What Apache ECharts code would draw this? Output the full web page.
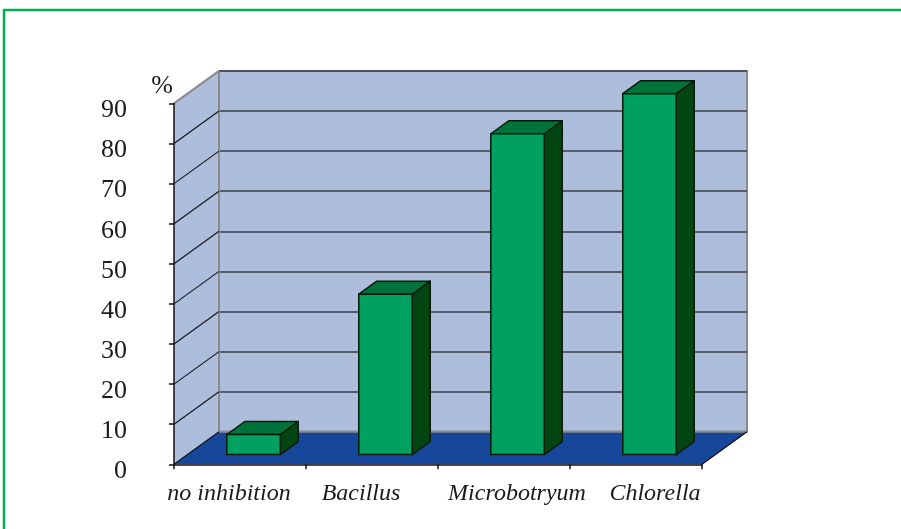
<!DOCTYPE html>
<html>
<head>
<meta charset="utf-8">
<script src="https://cdn.jsdelivr.net/npm/echarts@6/dist/echarts.min.js"></script>
<style>
  html, body { margin: 0; padding: 0; background: #ffffff; }
  #chart { width: 901px; height: 529px; }
</style>
</head>
<body>
<div id="chart"></div>
<script>
// Growth inhibition by organism (%)
const categories = ['no inhibition', 'Bacillus', 'Microbotryum', 'Chlorella'];
const inhibition = [5, 40, 80, 90];
const yTicks = [0, 10, 20, 30, 40, 50, 60, 70, 80, 90];

// 3-D box styling
const DEPTH_X = 45;        // horizontal shift of the back wall (px)
const DEPTH_Y = -32.5;     // vertical shift of the back wall (px)
const BAR_FRONT = 0.30;    // bar front face position within the depth
const BAR_BACK = 0.70;     // bar back face position within the depth
const BAR_WIDTH = 0.405;   // fraction of a category band
const LABEL_NUDGE = [-11, -11, 13, 19];

const SERIF = '"Liberation Serif", "Times New Roman", serif';
const TEXT = '#1a1a1a';
const WALL = '#adbedd';
const FLOOR = '#17479a';
const WALL_EDGE = '#8a8a8a';

const chart = echarts.init(document.getElementById('chart'), null, { renderer: 'canvas' });

const xRich = {};
LABEL_NUDGE.forEach((s, i) => {
  xRich['n' + i] = {
    fontFamily: SERIF, fontSize: 24, fontStyle: 'italic', color: TEXT,
    padding: s >= 0 ? [0, 0, 0, 2 * s] : [0, -2 * s, 0, 0]
  };
});

// Left side wall, floor and the receding grid lines
function renderRoom(params, api) {
  const cs = params.coordSys;
  const x0 = cs.x, x1 = cs.x + cs.width;
  const yZero = api.coord([0, yTicks[0]])[1];
  const yTop = api.coord([0, yTicks[yTicks.length - 1]])[1];
  const children = [
    { type: 'polygon', z2: 1,
      shape: { points: [[x0, yZero], [x0 + DEPTH_X, yZero + DEPTH_Y], [x0 + DEPTH_X, yTop + DEPTH_Y], [x0, yTop]] },
      style: { fill: WALL, stroke: null } },
    { type: 'polygon', z2: 2,
      shape: { points: [[x0, yZero], [x1, yZero], [x1 + DEPTH_X, yZero + DEPTH_Y], [x0 + DEPTH_X, yZero + DEPTH_Y]] },
      style: { fill: FLOOR, stroke: null } },
    { type: 'line', z2: 3,
      shape: { x1: x0 + DEPTH_X, y1: yZero + DEPTH_Y, x2: x1 + DEPTH_X, y2: yZero + DEPTH_Y },
      style: { stroke: WALL_EDGE, lineWidth: 2 } },
    { type: 'line', z2: 3,
      shape: { x1: x0 + DEPTH_X, y1: yZero + DEPTH_Y, x2: x0 + DEPTH_X, y2: yTop + DEPTH_Y },
      style: { stroke: WALL_EDGE, lineWidth: 2 } },
    { type: 'line', z2: 3,
      shape: { x1: x1, y1: yZero, x2: x1 + DEPTH_X, y2: yZero + DEPTH_Y },
      style: { stroke: '#111', lineWidth: 1.3 } }
  ];
  yTicks.forEach((t, k) => {
    const y = api.coord([0, t])[1];
    const last = k === yTicks.length - 1;
    children.push({
      type: 'line', z2: 4,
      shape: { x1: x0, y1: y, x2: x0 + DEPTH_X, y2: y + DEPTH_Y },
      style: { stroke: last ? WALL_EDGE : '#111', lineWidth: last ? 2 : 1.1 }
    });
  });
  return { type: 'group', children };
}

// One 3-D bar: front face, top and right side
function renderBar(params, api) {
  const i = api.value(0);
  const v = api.value(1);
  const top = api.coord([i, v]);
  const base = api.coord([i, 0]);
  const band = api.size([1, 0])[0];
  const w = band * BAR_WIDTH;
  const fx0 = top[0] + BAR_FRONT * DEPTH_X - w / 2;
  const fx1 = fx0 + w;
  const yt = top[1] + BAR_FRONT * DEPTH_Y;
  const yb = base[1] + BAR_FRONT * DEPTH_Y;
  const dx = (BAR_BACK - BAR_FRONT) * DEPTH_X;
  const dy = (BAR_BACK - BAR_FRONT) * DEPTH_Y;
  const edge = { stroke: '#0a1a0a', lineWidth: 1.5, lineJoin: 'round' };
  return {
    type: 'group',
    children: [
      { type: 'polygon',
        shape: { points: [[fx1, yt], [fx1 + dx, yt + dy], [fx1 + dx, yb + dy], [fx1, yb]] },
        style: Object.assign({ fill: '#004512' }, edge) },
      { type: 'polygon',
        shape: { points: [[fx0, yt], [fx1, yt], [fx1 + dx, yt + dy], [fx0 + dx, yt + dy]] },
        style: Object.assign({ fill: '#00723a' }, edge) },
      { type: 'rect',
        shape: { x: fx0, y: yt, width: w, height: yb - yt },
        style: Object.assign({ fill: '#00a060' }, edge) }
    ]
  };
}

const option = {
  backgroundColor: '#ffffff',
  animation: false,
  graphic: [{
    type: 'rect', z: -10,
    shape: { x: 4, y: 10, width: 1000, height: 1000 },
    style: { fill: null, stroke: '#00b050', lineWidth: 2.5 }
  }],
  grid: [
    { left: 174, right: 199, top: 103.4, bottom: 64.7 },
    { left: 174 + DEPTH_X, right: 199 - DEPTH_X, top: 103.4 + DEPTH_Y, bottom: 64.7 - DEPTH_Y,
      show: true, backgroundColor: WALL, borderColor: WALL_EDGE, borderWidth: 2 }
  ],
  xAxis: [
    {
      gridIndex: 0, type: 'category', data: categories, z: 5,
      axisLine: { show: true, lineStyle: { color: '#111', width: 1.5 } },
      axisTick: { show: true, length: 5, lineStyle: { color: '#111', width: 1.5 } },
      axisLabel: {
        margin: 17, interval: 0,
        fontFamily: SERIF, fontSize: 24, fontStyle: 'italic', color: TEXT,
        formatter: (val, idx) => '{n' + idx + '|' + val + '}',
        rich: xRich
      },
      splitLine: { show: false }
    },
    { gridIndex: 1, type: 'value', min: 0, max: 1, show: false }
  ],
  yAxis: [
    {
      gridIndex: 0, type: 'value', z: 5,
      min: yTicks[0], max: yTicks[yTicks.length - 1], interval: yTicks[1] - yTicks[0],
      name: '%', nameLocation: 'end', nameGap: 4,
      nameTextStyle: { fontFamily: SERIF, fontSize: 26, color: TEXT, padding: [0, 24, 0, 0] },
      axisLine: { show: true, lineStyle: { color: '#111', width: 1.5 } },
      axisTick: { show: true, length: 5, lineStyle: { color: '#111', width: 1.5 } },
      axisLabel: {
        margin: 47,
        fontFamily: SERIF, fontSize: 26, color: TEXT,
        formatter: (val) => '{v|' + val + '}',
        rich: { v: { fontFamily: SERIF, fontSize: 26, color: TEXT, padding: [14, 0, 0, 0] } }
      },
      splitLine: { show: false }
    },
    {
      gridIndex: 1, type: 'value',
      min: yTicks[0], max: yTicks[yTicks.length - 1], interval: yTicks[1] - yTicks[0],
      axisLine: { show: false }, axisTick: { show: false }, axisLabel: { show: false },
      splitLine: { show: true, lineStyle: { color: '#3c3c46', width: 1.5 } }
    }
  ],
  series: [
    {
      type: 'custom', name: 'room', xAxisIndex: 0, yAxisIndex: 0, z: 1,
      silent: true, clip: false,
      data: [[0, 0]],
      renderItem: renderRoom
    },
    {
      type: 'custom', name: 'inhibition', xAxisIndex: 0, yAxisIndex: 0, z: 3,
      clip: false,
      data: categories.map((c, i) => [i, inhibition[i]]),
      encode: { x: 0, y: 1 },
      renderItem: renderBar
    }
  ]
};

chart.setOption(option);
</script>
</body>
</html>
